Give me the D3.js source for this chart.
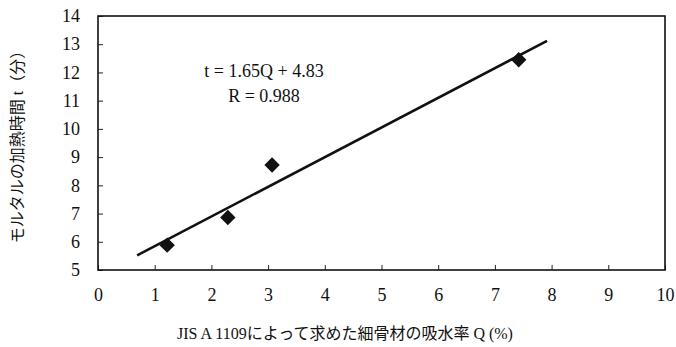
<!DOCTYPE html>
<html>
<head>
<meta charset="utf-8">
<script src="https://cdn.jsdelivr.net/npm/d3@7"></script>
<style>
  html, body { margin: 0; padding: 0; background: #fff; }
  svg { display: block; }
  .num { font-family: "Liberation Serif", "DejaVu Serif", serif; fill: #111; }
  .jp { font-family: "Liberation Serif", "Noto Sans CJK JP", serif; fill: #111; }
</style>
</head>
<body>
<svg id="chart" width="676" height="347"></svg>
<script>
// Water absorption of fine aggregate Q (%) vs. mortar heating time t (min)
const absorptionQ = [1.22, 2.29, 3.07, 7.42];
const heatingTime = [5.88, 6.86, 8.72, 12.45];

// Fitted line, drawn between its two end points
const fitQ = [0.69, 7.92];
const fitT = [5.52, 13.12];

const xTicks = [0, 1, 2, 3, 4, 5, 6, 7, 8, 9, 10];
const yTicks = [5, 6, 7, 8, 9, 10, 11, 12, 13, 14];

const equationLines = ["t = 1.65Q + 4.83", "R = 0.988"];
const xTitle = "JIS A 1109によって求めた細骨材の吸水率 Q (%)";
const yTitle = "モルタルの加熱時間 t（分）";

const margin = { left: 98, top: 16, right: 11, bottom: 77 };
const W = 676, H = 347;
const iw = W - margin.left - margin.right;
const ih = H - margin.top - margin.bottom;

const svg = d3.select("#chart");
const g = svg.append("g").attr("transform", `translate(${margin.left},${margin.top})`);

const x = d3.scaleLinear().domain([0, 10]).range([0, iw]);
const y = d3.scaleLinear().domain([5, 14]).range([ih, 0]);

// Axes with inward ticks
const xAxis = g.append("g").attr("transform", `translate(0,${ih})`)
  .call(d3.axisBottom(x).tickValues(xTicks).tickSize(-5).tickPadding(18).tickSizeOuter(0));
const yAxis = g.append("g")
  .call(d3.axisLeft(y).tickValues(yTicks).tickSize(-5).tickPadding(18).tickSizeOuter(0));

[xAxis, yAxis].forEach(a => {
  a.select(".domain").remove();
  a.selectAll(".tick line").attr("stroke", "#222").attr("stroke-width", 1);
  a.selectAll(".tick text").attr("class", "num").attr("font-size", 18).attr("fill", "#111");
});

// Plot frame
g.append("rect")
  .attr("x", 0).attr("y", 0).attr("width", iw).attr("height", ih)
  .attr("fill", "none").attr("stroke", "#111").attr("stroke-width", 1.6);

// Fitted line
const fitPts = fitQ.map((q, i) => [q, fitT[i]]);
g.append("path")
  .datum(fitPts)
  .attr("d", d3.line().x(d => x(d[0])).y(d => y(d[1])))
  .attr("fill", "none").attr("stroke", "#111").attr("stroke-width", 2.6);

// Data markers (filled diamonds)
const diamond = d3.symbol().type(d3.symbolSquare).size(118);
g.selectAll(".pt")
  .data(absorptionQ.map((q, i) => [q, heatingTime[i]]))
  .join("path")
  .attr("class", "pt")
  .attr("d", diamond)
  .attr("transform", d => `translate(${x(d[0])},${y(d[1])}) rotate(45)`)
  .attr("fill", "#111");

// Regression equation
g.selectAll(".eq")
  .data(equationLines)
  .join("text")
  .attr("class", "num")
  .attr("x", 166)
  .attr("y", (d, i) => 61 + i * 25)
  .attr("text-anchor", "middle")
  .attr("font-size", 18)
  .text(d => d);

// Axis titles
svg.append("text")
  .attr("class", "jp")
  .attr("x", 345).attr("y", 339)
  .attr("text-anchor", "middle")
  .attr("font-size", 16)
  .text(xTitle);

svg.append("text")
  .attr("class", "jp")
  .attr("transform", "translate(23,143) rotate(-90)")
  .attr("text-anchor", "middle")
  .attr("font-size", 16)
  .text(yTitle);
</script>
</body>
</html>
